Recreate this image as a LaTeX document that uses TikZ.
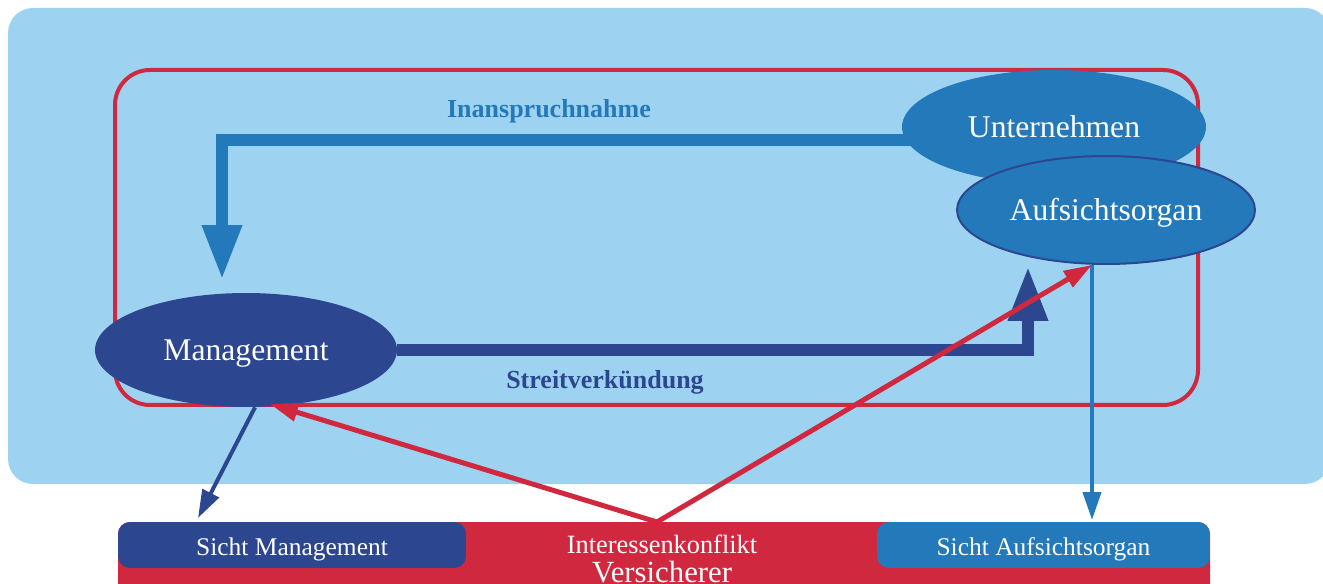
\documentclass[tikz,border=0pt]{standalone}
\usepackage{fontspec}
\setmainfont{Liberation Serif}
\usetikzlibrary{arrows.meta,shapes.geometric}
\definecolor{skyback}{HTML}{9DD3F0}
\definecolor{konfred}{HTML}{D0283F}
\definecolor{midblue}{HTML}{2479BA}
\definecolor{navyblue}{HTML}{2C4690}
\tikzset{
  party/.style={ellipse, inner sep=0pt, text=white, text height=11.6pt, text depth=0pt, font=\fontsize{18}{20}\selectfont},
  sicht/.style={rounded corners=0.24cm, inner sep=0pt, minimum height=0.92cm, text=white, text height=11.4pt, text depth=0pt, font=\fontsize{14.5}{16}\selectfont},
  bigflow/.style={line width=0.25cm, -{Triangle[length=1.1cm,width=0.74cm]}},
  thinflow/.style={line width=0.08cm, -{Triangle[length=0.56cm,width=0.36cm]}},
  lbl/.style={anchor=base, font=\bfseries\fontsize{14.8}{16}\selectfont},
}
\begin{document}
\begin{tikzpicture}[x=0.02cm,y=-0.02cm]
\useasboundingbox (0,0) rectangle (1323,584);
\clip (0,0) rectangle (1323,584);
\fill[skyback, rounded corners=0.5cm] (8,8) rectangle (1330,484);
\path[draw,konfred,line width=0.08cm,rounded corners=0.7cm] (115,70) rectangle (1198,405);

\node[party, fill=navyblue, minimum width=6.04cm, minimum height=2.28cm] (mgmt) at (246,350) {Management};
\node[party, fill=midblue, minimum width=6.08cm, minimum height=2.28cm] (untern) at (1054,127) {Unternehmen};
\node[party, fill=midblue, draw=navyblue, line width=0.04cm, minimum width=5.96cm, minimum height=2.16cm] (aufsicht) at (1106,210) {Aufsichtsorgan};

\node[lbl, text=midblue] (inanspr) at (549,118) {Inanspruchnahme};
\node[lbl, text=navyblue] (streit) at (605,389) {Streitverkündung};

\fill[konfred, rounded corners=0.24cm] (118,522) rectangle (1210,620);
\node[sicht, fill=navyblue, minimum width=6.96cm] (sichtm) at (292,545) {Sicht Management};
\node[sicht, fill=midblue, minimum width=6.66cm] (sichta) at (1043.5,545) {Sicht Aufsichtsorgan};
\node[anchor=base, text=white, font=\fontsize{15}{17}\selectfont] (konflikt) at (662,553) {Interessenkonflikt};
\node[anchor=base, text=white, font=\fontsize{17.5}{19}\selectfont] (versich) at (662,582) {Versicherer};

\coordinate (itip) at (222,280);
\coordinate (stip) at (1028,266);
\coordinate (atip) at (1092,520);
\coordinate (mtip) at (198,518);
\coordinate (vsrc) at (657,522);
\coordinate (redtip) at (270,404);

\path[draw,bigflow,midblue] ([xshift=0.2cm,yshift=-0.26cm]untern.west) -| (itip);
\path[draw,bigflow,navyblue] (mgmt.east) -| (stip);
\path[draw,thinflow,midblue] (aufsicht.south -| atip) -- (atip);
\path[draw,thinflow,navyblue] ([xshift=0.18cm]mgmt.south) -- (mtip);
\path[draw,thinflow,konfred,line width=0.1cm] (vsrc) -- (redtip);
\path[draw,thinflow,konfred,line width=0.1cm] (vsrc) -- (aufsicht.south -| atip);
\end{tikzpicture}
\end{document}
